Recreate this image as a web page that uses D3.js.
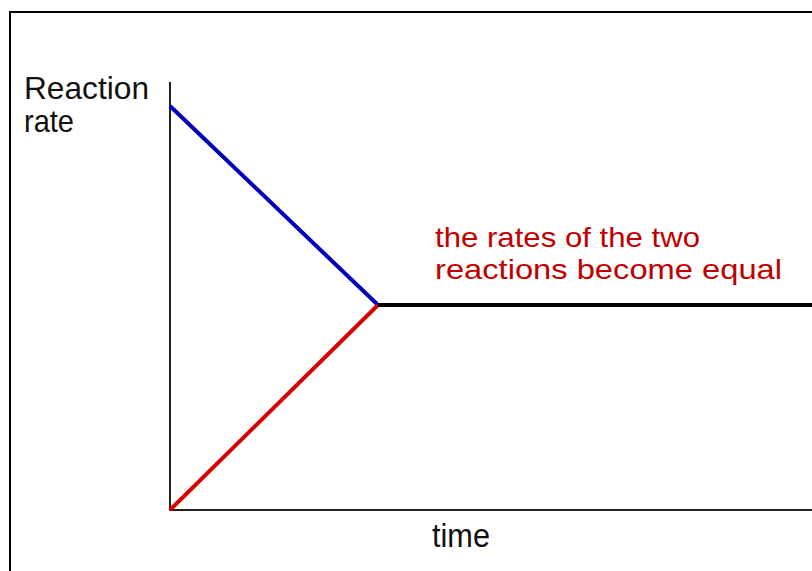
<!DOCTYPE html>
<html lang="en">
<head>
<meta charset="UTF-8">
<title>Reaction rate vs time</title>
<script src="https://d3js.org/d3.v7.min.js"></script>
<style>
  body { margin: 0; background: #fff; }
  text { font-family: "Liberation Sans", Arial, sans-serif; }
</style>
</head>
<body>
<div id="chart"></div>
<script>
// data (time and rate in arbitrary units 0-100)
const eqTime = 32.4;
const forwardRate = [{t: 0, r: 94.4}, {t: eqTime, r: 47.9}];
const reverseRate = [{t: 0, r: 0}, {t: eqTime, r: 47.9}];
const equalRate = [{t: eqTime, r: 47.9}, {t: 100, r: 47.9}];
const yLabel = ["Reaction", "rate"];
const note = ["the rates of the two", "reactions become equal"];

const W = 812, H = 571;
const svg = d3.select("#chart").append("svg")
  .attr("width", W).attr("height", H);

// frame (top and left edges only)
svg.append("path")
  .attr("d", "M10,571 V12 H812")
  .attr("fill", "none").attr("stroke", "#000").attr("stroke-width", 2);

const x = d3.scaleLinear().domain([0, 100]).range([170, 812]);
const y = d3.scaleLinear().domain([0, 100]).range([510, 82]);

// axes
svg.append("line")
  .attr("x1", x(0)).attr("x2", x(0)).attr("y1", y(100)).attr("y2", y(0))
  .attr("stroke", "#222").attr("stroke-width", 2);
svg.append("line")
  .attr("x1", x(0) - 1).attr("x2", x(100)).attr("y1", y(0)).attr("y2", y(0))
  .attr("stroke", "#222").attr("stroke-width", 2);

const line = d3.line().x(d => x(d.t)).y(d => y(d.r));

svg.append("path").datum(forwardRate).attr("d", line)
  .attr("fill", "none").attr("stroke", "#0000b8").attr("stroke-width", 4);
svg.append("path").datum(reverseRate).attr("d", line)
  .attr("fill", "none").attr("stroke", "#d80000").attr("stroke-width", 4);
svg.append("path").datum(equalRate).attr("d", line)
  .attr("fill", "none").attr("stroke", "#000").attr("stroke-width", 4);

// multi-line labels: one text element, one tspan per line
function label(lines, px, ys, size, lens, color) {
  const t = svg.append("text").attr("font-size", size).attr("fill", color || "#111");
  lines.forEach((s, i) => {
    t.append("tspan").attr("x", px).attr("y", ys[i])
      .attr("textLength", lens[i]).attr("lengthAdjust", "spacingAndGlyphs")
      .text(s);
  });
}
label(yLabel, 24, [99, 132], 32, [125, 50]);
label(["time"], 432, [547], 34, [58]);
label(note, 435, [247, 279], 28, [265, 347], "#c00000");
</script>
</body>
</html>
